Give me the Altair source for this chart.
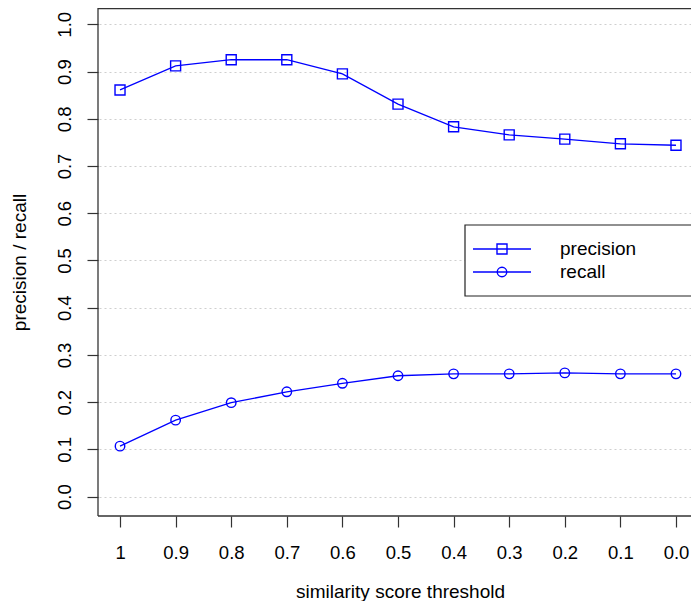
import altair as alt
import pandas as pd

# ---- data ----
thresholds = [1.0, 0.9, 0.8, 0.7, 0.6, 0.5, 0.4, 0.3, 0.2, 0.1, 0.0]
precision = [0.861, 0.912, 0.925, 0.925, 0.895, 0.831, 0.783, 0.766, 0.757, 0.747, 0.744]
recall = [0.107, 0.162, 0.199, 0.222, 0.240, 0.256, 0.260, 0.260, 0.262, 0.260, 0.260]
series_names = ["precision", "recall"]
x_ticks = [1.0, 0.9, 0.8, 0.7, 0.6, 0.5, 0.4, 0.3, 0.2, 0.1, 0.0]
y_ticks = [0.0, 0.1, 0.2, 0.3, 0.4, 0.5, 0.6, 0.7, 0.8, 0.9, 1.0]
x_title = "similarity score threshold"
y_title = "precision / recall"

# ---- styling ----
FONT = "Liberation Sans"
BLUE = "#0000FF"
FRAME = "#333333"
LEFT = 88
W, H = 683 - LEFT, 508
BOTTOM = 85

df_p = pd.DataFrame({"t": thresholds, "v": precision})
df_r = pd.DataFrame({"t": thresholds, "v": recall})

x_scale = alt.Scale(domain=[-0.0270, 1.0432], reverse=True, nice=False, zero=False)
y_scale = alt.Scale(domain=[-0.0409, 1.0345], nice=False, zero=False)

x_axis = alt.Axis(
    values=x_ticks,
    labelExpr="datum.value == 1 ? '1' : format(datum.value, '.1f')",
    grid=False, domain=False,
    tickSize=11, tickColor=FRAME, tickWidth=1.2,
    labelFont=FONT, labelFontSize=18.5, labelColor="black", labelPadding=16,
    labelBaseline="top",
    title=x_title, titleFont=FONT, titleFontSize=19, titleFontWeight="normal",
    titleColor="black", titleX=304, titleY=81, titleBaseline="alphabetic",
    titleAlign="center", titleAngle=0,
)
y_axis = alt.Axis(
    values=y_ticks,
    labelExpr="format(datum.value, '.1f')",
    grid=True, gridColor="#cfcfcf", gridDash=[2, 3], gridWidth=1,
    domain=False, offset=-2,
    tickSize=11, tickColor=FRAME, tickWidth=1.2,
    labelFont=FONT, labelFontSize=18.5, labelColor="black", labelPadding=17,
    labelAngle=270, labelAlign="center", labelBaseline="alphabetic",
    title=y_title, titleFont=FONT, titleFontSize=19, titleFontWeight="normal",
    titleColor="black", titleAngle=270, titleX=-73, titleY=254,
    titleBaseline="alphabetic", titleAlign="center",
)

X = alt.X("t:Q", scale=x_scale, axis=x_axis)
Y = alt.Y("v:Q", scale=y_scale, axis=y_axis)

prec_line = alt.Chart(df_p).mark_line(color=BLUE, strokeWidth=1.3).encode(x=X, y=Y)
prec_pts = alt.Chart(df_p).mark_point(
    shape="square", filled=False, size=100, strokeWidth=1.4, color=BLUE, opacity=1
).encode(x=X, y=Y)
rec_line = alt.Chart(df_r).mark_line(color=BLUE, strokeWidth=1.3).encode(x=X, y=Y)
rec_pts = alt.Chart(df_r).mark_point(
    shape="circle", filled=False, size=90, strokeWidth=1.4, color=BLUE, opacity=1
).encode(x=X, y=Y)

# frame (the right side lies outside the picture)
frame_left = alt.Chart().mark_rule(color=FRAME, strokeWidth=1.3).encode(
    x=alt.value(2), y=alt.value(0), y2=alt.value(H))
frame_top = alt.Chart().mark_rule(color=FRAME, strokeWidth=1.3).encode(
    x=alt.value(2), x2=alt.value(W), y=alt.value(0.7))
frame_bottom = alt.Chart().mark_rule(color=FRAME, strokeWidth=1.3).encode(
    x=alt.value(2), x2=alt.value(W), y=alt.value(H))

# legend
leg_box = alt.Chart().mark_rect(fill="white", stroke="#222222", strokeWidth=1.2).encode(
    x=alt.value(369), x2=alt.value(640), y=alt.value(217), y2=alt.value(288))
leg_layers = [leg_box]
for name, shape, size, yy in [(series_names[0], "square", 100, 241),
                              (series_names[1], "circle", 90, 264)]:
    leg_layers.append(alt.Chart().mark_rule(color=BLUE, strokeWidth=1.3).encode(
        x=alt.value(377), x2=alt.value(435), y=alt.value(yy)))
    leg_layers.append(alt.Chart().mark_point(
        shape=shape, filled=False, size=size, strokeWidth=1.4, color=BLUE, opacity=1
    ).encode(x=alt.value(406), y=alt.value(yy)))
    leg_layers.append(alt.Chart().mark_text(
        align="left", baseline="middle", font=FONT, fontSize=19, color="black"
    ).encode(x=alt.value(464), y=alt.value(yy), text=alt.value(name)))

chart = alt.layer(
    prec_line, prec_pts, rec_line, rec_pts,
    frame_left, frame_top, frame_bottom,
    *leg_layers,
).properties(
    width=W, height=H,
    padding={"left": LEFT, "top": 0, "right": 0, "bottom": BOTTOM},
    autosize=alt.AutoSizeParams(type="none"),
    background="white",
).configure_view(stroke=None)

chart.save("out.html", embed_options={"renderer": "svg", "actions": False})
